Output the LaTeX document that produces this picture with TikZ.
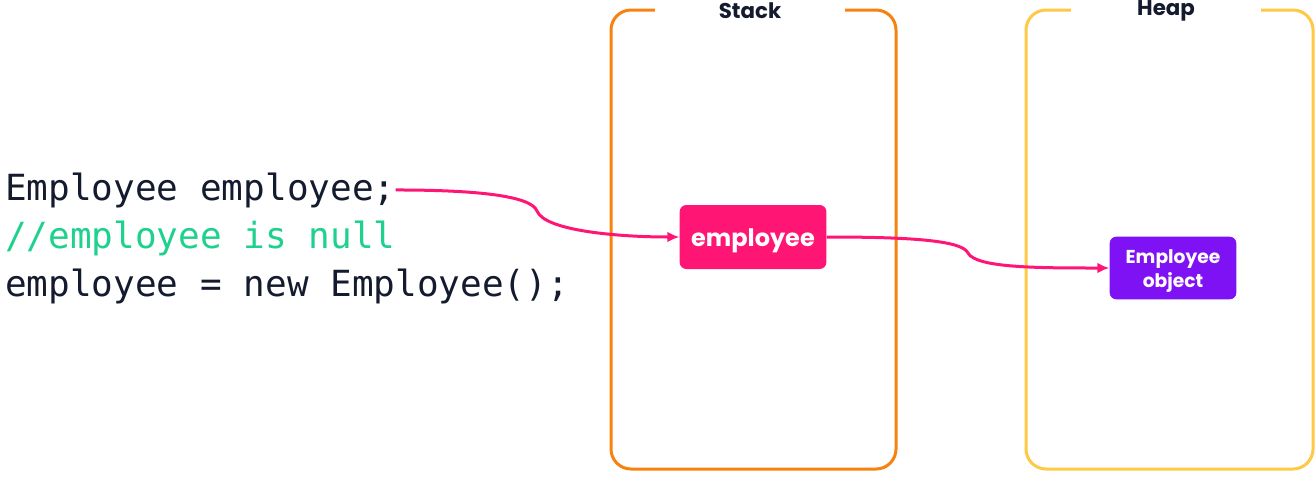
\documentclass[tikz,border=0pt]{standalone}
\usepackage{fontspec}
\setmainfont{Poppins}
\setmonofont{DejaVu Sans Mono}
\usetikzlibrary{arrows.meta,positioning}
\definecolor{stackorange}{HTML}{F7820F}
\definecolor{heapyellow}{HTML}{FFC845}
\definecolor{refpink}{HTML}{FF1675}
\definecolor{objpurple}{HTML}{7F12F5}
\definecolor{codeink}{HTML}{141B2E}
\definecolor{codegreen}{HTML}{1ED18C}

\begin{document}
\begin{tikzpicture}[x=0.75pt,y=-0.75pt,>=Latex,
  codeline/.style={anchor=base west,inner sep=0pt,font=\ttfamily\fontsize{27}{27}\selectfont},
  region/.style={line width=2.25pt,rounded corners=15pt},
  regionlabel/.style={fill=white,inner sep=0pt,minimum width=142pt,minimum height=14pt,font=\bfseries\fontsize{16}{16}\selectfont,text=codeink},
  cell/.style={rounded corners=5pt,text=white,align=center,inner sep=0pt},
  pointer/.style={draw=refpink,line width=2.25pt,-{Latex[length=9pt,width=8pt]}}]
\useasboundingbox (0,0) rectangle (1316,479);
% memory regions
\draw[region,draw=stackorange] (611,10) rectangle (896,469);
\node[regionlabel] (stacklbl) at (750,11) {Stack};
\draw[region,draw=heapyellow] (1026,10) rectangle (1313,469);
\node[regionlabel] (heaplbl) at (1166,11) {Heap};
% code
\node[codeline,text=codeink] (code1) at (5,200) {Employee employee;};
\node[codeline,text=codegreen] (code2) at (5,248) {//employee is null};
\node[codeline,text=codeink] (code3) at (5,296) {employee = new Employee();};
% reference and object
\node[cell,fill=refpink,minimum width=110pt,minimum height=48pt,font=\bfseries\fontsize{18}{18}\selectfont] (ref) at (753,237) {\rule{0pt}{19pt}employee};
\node[cell,fill=objpurple,minimum width=95pt,minimum height=47pt,font=\bfseries\fontsize{14}{18}\selectfont] (obj) at (1173,268) {\rule{0pt}{15pt}Employee\\object};
\draw[pointer] (code1.east) .. controls +(75,0) and +(-6,-16) .. (537,211) .. controls +(8,20) and +(-60,0) .. (ref.west);
\draw[pointer] (ref.east) .. controls +(80,0) and +(-6,-13) .. (968,253) .. controls +(8,15) and +(-70,0) .. (obj.west);
\end{tikzpicture}
\end{document}
